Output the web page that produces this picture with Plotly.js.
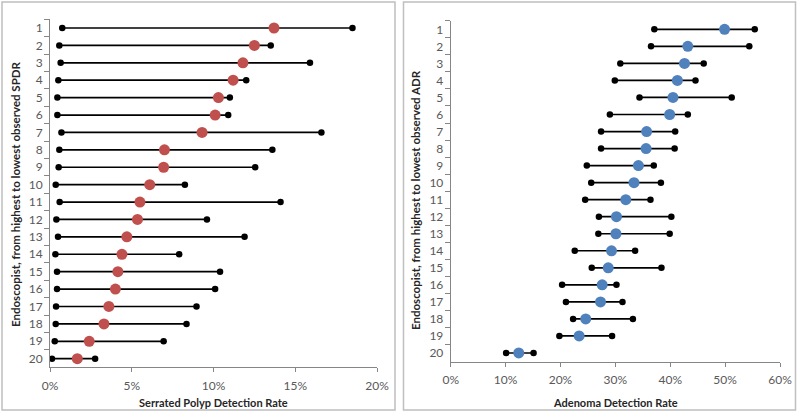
<!DOCTYPE html>
<html>
<head>
<meta charset="utf-8">
<script src="https://cdn.plot.ly/plotly-3.0.1.min.js"></script>
<style>html,body{margin:0;padding:0;background:#fff;}#chart{width:800px;height:412px;}</style>
</head>
<body>
<div id="chart"></div>
<script>
// Endoscopist rank labels (1 = highest)
const endoscopists = ["1","2","3","4","5","6","7","8","9","10","11","12","13","14","15","16","17","18","19","20"];

// Serrated polyp detection rate (%) with confidence limits
const spdr     = [13.7,12.5,11.8,11.2,10.3,10.1,9.3,7.0,6.95,6.1,5.5,5.35,4.7,4.4,4.15,4.0,3.6,3.3,2.4,1.67];
const spdrLow  = [0.75,0.57,0.65,0.51,0.45,0.45,0.70,0.57,0.53,0.35,0.59,0.39,0.49,0.33,0.43,0.43,0.37,0.35,0.29,0.12];
const spdrHigh = [18.5,13.5,15.9,12.0,11.0,10.9,16.6,13.6,12.55,8.25,14.1,9.6,11.9,7.9,10.4,10.1,8.96,8.35,6.95,2.76];

// Adenoma detection rate (%) with confidence limits
const adr     = [49.9,43.2,42.6,41.3,40.5,39.9,35.7,35.6,34.2,33.4,31.9,30.2,30.1,29.3,28.7,27.6,27.3,24.6,23.4,12.4];
const adrLow  = [37.1,36.5,30.9,29.9,34.4,29.0,27.4,27.4,24.8,25.6,24.5,27.0,26.9,22.6,25.7,20.3,21.0,22.3,19.8,10.1];
const adrHigh = [55.4,54.4,46.1,44.6,51.2,43.2,40.9,40.8,37.0,38.3,36.4,40.2,39.9,33.6,38.4,30.2,31.3,33.2,29.4,15.1];

const FONT = "Lato, 'Open Sans', sans-serif";
const TICKCOL = "#595959";
const AXCOL = "#868686";

function ciTrace(lo, hi, xa, ya) {
  const x = [], y = [];
  endoscopists.forEach((c, i) => { x.push(lo[i], hi[i], null); y.push(c, c, null); });
  return {x, y, xaxis: xa, yaxis: ya, type: "scatter", mode: "lines+markers",
    line: {color: "#000", width: 1.7}, marker: {color: "#000", size: 6.5},
    hoverinfo: "skip", showlegend: false};
}
function ptTrace(v, color, xa, ya) {
  return {x: v, y: endoscopists, xaxis: xa, yaxis: ya, type: "scatter", mode: "markers",
    marker: {color: color, size: 11}, showlegend: false};
}

const data = [
  ciTrace(spdrLow, spdrHigh, "x", "y"),
  ptTrace(spdr, "#C0504D", "x", "y"),
  ciTrace(adrLow, adrHigh, "x2", "y2"),
  ptTrace(adr, "#4F81BD", "x2", "y2")
];

const yRange = [endoscopists.length - 0.5, -0.5];

const xCommon = {showgrid: false, zeroline: false, showline: true, linecolor: AXCOL, linewidth: 1,
  ticks: "outside", ticklen: 4, tickcolor: AXCOL, ticksuffix: "%", ticklabelstandoff: 3,
  tickfont: {family: FONT, size: 12, color: TICKCOL}, fixedrange: true};
const yCommon = {type: "category", categoryorder: "array", categoryarray: endoscopists,
  autorange: false, range: yRange, showgrid: false, zeroline: false, showline: true, linecolor: AXCOL, linewidth: 1,
  ticks: "outside", ticklen: 5, tickcolor: AXCOL, tickson: "boundaries", ticklabelstandoff: 4,
  tickfont: {family: FONT, size: 12, color: TICKCOL}, fixedrange: true};

const layout = {
  width: 800, height: 412,
  margin: {l: 0, r: 0, t: 0, b: 0},
  paper_bgcolor: "#fff", plot_bgcolor: "#fff",
  xaxis: Object.assign({}, xCommon, {domain: [50/800, 377/800], range: [0, 20], dtick: 5, anchor: "y"}),
  yaxis: Object.assign({}, yCommon, {domain: [1 - 367.4/412, 1 - 19.3/412], anchor: "x"}),
  xaxis2: Object.assign({}, xCommon, {domain: [450.7/800, 780/800], range: [0, 60], dtick: 10, anchor: "y2"}),
  yaxis2: Object.assign({}, yCommon, {domain: [1 - 361.5/412, 1 - 20.8/412], anchor: "x2"}),
  shapes: [
    {type: "rect", xref: "paper", yref: "paper", x0: 2/800, x1: 395/800, y0: 1 - 410/412, y1: 1 - 2/412,
      line: {color: "#BFBFBF", width: 1.5}},
    {type: "rect", xref: "paper", yref: "paper", x0: 403.5/800, x1: 795.5/800, y0: 1 - 410/412, y1: 1 - 2/412,
      line: {color: "#BFBFBF", width: 1.5}}
  ],
  annotations: [
    {text: "<b>Serrated Polyp Detection Rate</b>", xref: "paper", yref: "paper", x: 213.5/800, y: 1 - 402/412,
      showarrow: false, xanchor: "center", yanchor: "middle", font: {family: FONT, size: 11, color: "#262626"}},
    {text: "<b>Adenoma Detection Rate</b>", xref: "paper", yref: "paper", x: 615.5/800, y: 1 - 402/412,
      showarrow: false, xanchor: "center", yanchor: "middle", font: {family: FONT, size: 11, color: "#262626"}},
    {text: "<b>Endoscopist, from highest to lowest observed SPDR</b>", xref: "paper", yref: "paper", x: 15/800, y: 1 - 194/412,
      textangle: -90, showarrow: false, xanchor: "center", yanchor: "middle", font: {family: FONT, size: 11.5, color: "#262626"}},
    {text: "<b>Endoscopist, from highest to lowest observed ADR</b>", xref: "paper", yref: "paper", x: 415/800, y: 1 - 200/412,
      textangle: -90, showarrow: false, xanchor: "center", yanchor: "middle", font: {family: FONT, size: 11.5, color: "#262626"}}
  ]
};

Plotly.newPlot("chart", data, layout, {displayModeBar: false, staticPlot: true});
</script>
</body>
</html>
